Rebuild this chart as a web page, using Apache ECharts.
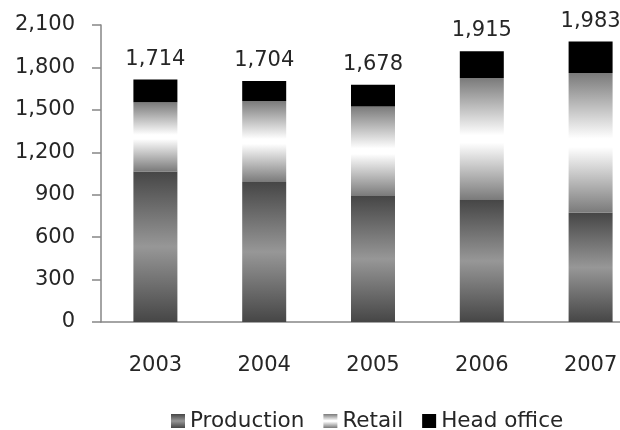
<!DOCTYPE html>
<html>
<head>
<meta charset="utf-8">
<script src="https://cdn.jsdelivr.net/npm/echarts@6/dist/echarts.min.js"></script>
<style>
html,body{margin:0;padding:0;background:#fff;overflow:hidden;width:620px;height:430px;}
#c{width:646px;height:430px;}
</style>
</head>
<body>
<div id="c"></div>
<script>
const years = ['2003','2004','2005','2006','2007'];
const production = [1065, 990, 891, 863, 773];
const retail = [488, 573, 633, 862, 988];
const headOffice = [161, 141, 154, 190, 222];
const totals = [1714, 1704, 1678, 1915, 1983];
const yTicks = { min: 0, max: 2100, interval: 300 };

const FONT = 'DejaVu Sans';
const TXT = '#262626';

const prodGrad = new echarts.graphic.LinearGradient(0,0,0,1,[
  {offset:0,color:'#464646'},{offset:0.5,color:'#979797'},{offset:1,color:'#464646'}]);
const retailGrad = new echarts.graphic.LinearGradient(0,0,0,1,[
  {offset:0,color:'#7a7a7a'},{offset:0.47,color:'#ffffff'},{offset:0.53,color:'#ffffff'},{offset:1,color:'#7a7a7a'}]);

const chart = echarts.init(document.getElementById('c'), null, {renderer:'canvas'});
chart.setOption({
  animation:false,
  grid:{left:101, right:1, top:25, bottom:108},
  legend:{
    left:166, top:405, itemWidth:14, itemHeight:14, itemGap:19,
    icon:'rect',
    textStyle:{fontFamily:FONT, fontSize:21.5, color:TXT},
    data:['Production','Retail','Head office']
  },
  xAxis:{
    type:'category', data:years,
    axisLine:{lineStyle:{color:'#868686', width:1.5}},
    axisTick:{show:false},
    axisLabel:{fontFamily:FONT, fontSize:21, color:TXT, margin:33}
  },
  yAxis:{
    type:'value', min:yTicks.min, max:yTicks.max, interval:yTicks.interval,
    axisLine:{show:true, lineStyle:{color:'#868686', width:1.5}},
    axisTick:{show:true, length:9, lineStyle:{color:'#868686', width:1.5}},
    splitLine:{show:false},
    axisLabel:{fontFamily:FONT, fontSize:21, color:TXT, margin:26,
      formatter:v=>v.toLocaleString('en-US')}
  },
  series:[
    {name:'Production', type:'bar', stack:'t', barWidth:44, data:production,
     itemStyle:{color:prodGrad}},
    {name:'Retail', type:'bar', stack:'t', barWidth:44, data:retail,
     itemStyle:{color:retailGrad}},
    {name:'Head office', type:'bar', stack:'t', barWidth:44, data:headOffice,
     itemStyle:{color:'#000000'},
     label:{show:true, position:'top', distance:10, fontFamily:FONT, fontSize:21, color:TXT,
       formatter:p=>totals[p.dataIndex].toLocaleString('en-US')}}
  ]
});
</script>
</body>
</html>
